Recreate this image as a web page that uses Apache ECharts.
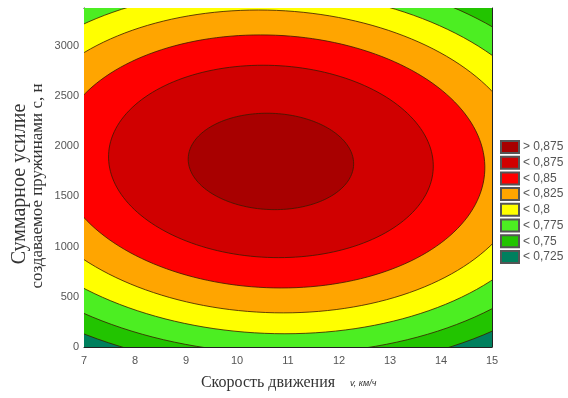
<!DOCTYPE html>
<html><head><meta charset="utf-8">
<script src="https://cdn.jsdelivr.net/npm/echarts@6/dist/echarts.min.js"></script>
<style>html,body{margin:0;padding:0;background:#fff}#c{width:568px;height:398px}</style>
</head><body><div id="c"></div>
<script>
// Contour bands (legend order) and colours
const bandLabels = ['> 0,875', '< 0,875', '< 0,85', '< 0,825', '< 0,8', '< 0,775', '< 0,75', '< 0,725'];
const bandColors = ['#A80000', '#D00000', '#FF0000', '#FFA500', '#FFFF00', '#4CEE22', '#22C400', '#00805E'];
// Contour lines: each is an ellipse around the surface optimum
const contourLevels = [0.875, 0.85, 0.825, 0.8, 0.775, 0.75, 0.725];
const contourSemiX = [1.62, 3.18, 4.19, 5.02, 5.72, 6.38, 6.95];      // km/h
const contourSemiY = [480, 958, 1260, 1508, 1716, 1915, 2085];        // N
const surfaceCenter = [10.665, 1848];                                 // [km/h, N]
const surfaceShear = -0.00016;                                        // km/h per N (tilt)
const speedRange = [7, 15];
const forceRange = [0, 3376];
const speedTicks = [7, 8, 9, 10, 11, 12, 13, 14, 15];
const forceTicks = [0, 500, 1000, 1500, 2000, 2500, 3000];

const chart = echarts.init(document.getElementById('c'), null, {renderer: 'canvas'});

function makeRender(band) {
  return function (params, api) {
    if (band === bandLabels.length - 1) {
      const p0 = api.coord([speedRange[0], forceRange[1]]);
      const p1 = api.coord([speedRange[1], forceRange[0]]);
      return {type: 'rect', shape: {x: p0[0], y: p0[1], width: p1[0] - p0[0], height: p1[1] - p0[1]},
        style: {fill: bandColors[band]}};
    }
    const a = contourSemiX[band], b = contourSemiY[band];
    const pts = [];
    const N = 180;
    for (let i = 0; i < N; i++) {
      const t = 2 * Math.PI * i / N;
      const y = surfaceCenter[1] + b * Math.sin(t);
      const x = surfaceCenter[0] + surfaceShear * (y - surfaceCenter[1]) + a * Math.cos(t);
      pts.push(api.coord([x, y]));
    }
    return {type: 'polygon', shape: {points: pts},
      style: {fill: bandColors[band], stroke: '#3a1a00', lineWidth: 0.8}};
  };
}

const series = [];
for (let band = bandLabels.length - 1; band >= 0; band--) {
  series.push({
    type: 'custom', name: bandLabels[band], clip: true,
    renderItem: makeRender(band),
    itemStyle: {color: bandColors[band], borderColor: '#555', borderWidth: 0.5},
    data: [[speedRange[0], forceRange[0]]],
    silent: true
  });
}

const axisCommon = {
  axisLine: {show: true, onZero: false, lineStyle: {color: '#222', width: 1}},
  axisTick: {show: true, inside: true, length: 3, lineStyle: {color: '#222'}},
  minorTick: {show: true, splitNumber: 5, length: 2, lineStyle: {color: '#333'}},
  splitLine: {show: false}
};

chart.setOption({
  animation: false,
  backgroundColor: '#fff',
  grid: {left: 84, right: 76, top: 8, bottom: 51},
  xAxis: [
    Object.assign({type: 'value', min: speedRange[0], max: speedRange[1], interval: 1, position: 'bottom',
      axisLabel: {color: '#555', fontSize: 11, fontFamily: 'Liberation Sans', margin: 8,
        formatter: v => speedTicks.includes(v) ? String(v) : ''}}, axisCommon),
    Object.assign({type: 'value', min: speedRange[0], max: speedRange[1], interval: 1, position: 'top',
      axisLabel: {show: false}}, axisCommon)
  ],
  yAxis: [
    Object.assign({type: 'value', min: forceRange[0], max: forceRange[1], interval: 500, position: 'left',
      axisLabel: {color: '#555', fontSize: 11, fontFamily: 'Liberation Sans', margin: 5,
        formatter: v => forceTicks.includes(v) ? String(v) : ''}}, axisCommon),
    Object.assign({type: 'value', min: forceRange[0], max: forceRange[1], interval: 500, position: 'right',
      axisLabel: {show: false}}, axisCommon)
  ],
  legend: {
    orient: 'vertical', left: 500, top: 140, padding: 0,
    itemWidth: 18, itemHeight: 12, itemGap: 1.7,
    icon: 'rect',
    data: bandLabels.slice(),
    textStyle: {color: '#555', fontSize: 12, lineHeight: 12, fontFamily: 'Liberation Sans', padding: [0, 0, 0, -1]},
    selectedMode: false
  },
  graphic: [
    {type: 'text', x: 268, y: 383,
      style: {text: 'Скорость движения', font: '16px "Liberation Serif"', fill: '#333', align: 'center', verticalAlign: 'middle'}},
    {type: 'text', x: 350, y: 383,
      style: {text: 'v, км/ч', font: 'italic 9px "Liberation Sans"', fill: '#333', align: 'left', verticalAlign: 'middle'}},
    {type: 'text', x: 20, y: 184, rotation: Math.PI / 2,
      style: {text: 'Суммарное усилие', font: '20px "Liberation Serif"', fill: '#333', align: 'center', verticalAlign: 'middle'}},
    {type: 'text', x: 38, y: 186, rotation: Math.PI / 2,
      style: {text: 'создаваемое пружинами с, н', font: '17px "Liberation Serif"', fill: '#333', align: 'center', verticalAlign: 'middle'}}
  ],
  series: series
});
</script>
</body></html>
